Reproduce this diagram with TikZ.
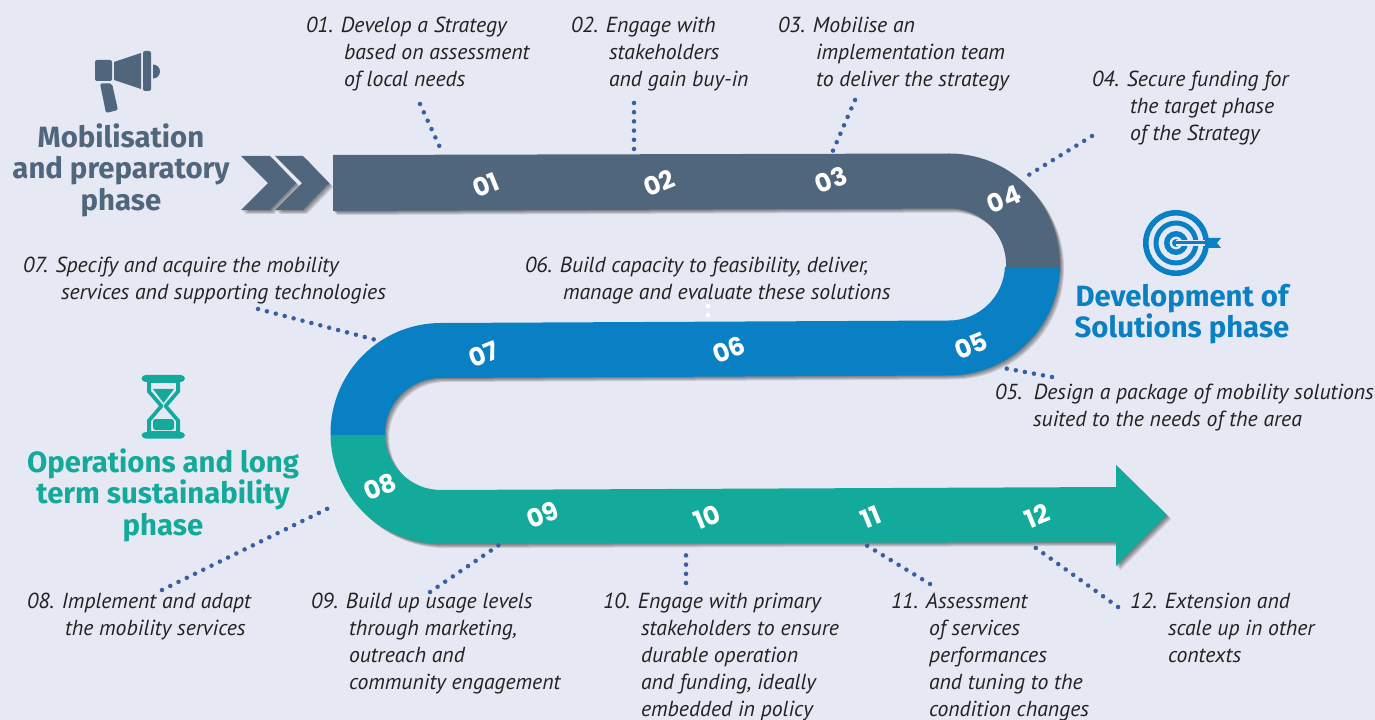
\documentclass[tikz,border=0pt]{standalone}
\usepackage{fontspec}
\setmainfont{PT Sans}
\newfontfamily\headfont{Fira Sans}
\newfontfamily\numfont{Poppins}
\definecolor{bgc}{HTML}{E6E9F3}
\definecolor{slatec}{HTML}{4F667C}
\definecolor{bluec}{HTML}{0A80C4}
\definecolor{greenc}{HTML}{13AA9B}
\definecolor{dotc}{HTML}{3A5FA0}
\definecolor{txtc}{HTML}{222222}
\tikzset{
  px/.style={x=0.75pt,y=-0.75pt},
  lbl/.style={anchor=north west,inner sep=0pt,outer sep=0pt,align=left,text=txtc,
     font=\fontsize{16.3pt}{20.25pt}\selectfont\itshape},
  head/.style={inner sep=0pt,outer sep=0pt,align=center,font=\fontsize{22pt}{23.6pt}\selectfont\headfont\bfseries},
  num/.style={inner sep=0pt,text=white,rotate=22,font=\fontsize{19pt}{19pt}\selectfont\numfont\bfseries},
  dotline/.style={draw=dotc,line width=3.4pt,line cap=round,dash pattern=on 0pt off 6.9pt},
  shad/.style={fill=black,fill opacity=0.13,draw=none},
}
\newcommand{\softshadow}[1]{%
  \foreach \d in {1,2,3,4}{\fill[shad,shift={(\d*0.75pt,-\d*0.75pt)}] #1;}%
}
\def\pathA{(333,155) -- (949,153.5) arc[start angle=-90,end angle=1.3,radius=111] -- (1006,267) arc[start angle=2.5,end angle=-90,radius=56] -- (333,211) -- cycle}
\def\pathB{(1060,267) arc[start angle=1.3,end angle=90,radius=111] -- (441,378) arc[start angle=-90,end angle=-180,radius=56] -- (385,435) -- (330.5,435) -- (330.5,433.5) arc[start angle=180,end angle=270,radius=110.5] -- (949,320.5) arc[start angle=90,end angle=2.5,radius=56] -- cycle}
\def\pathC{(330.5,435) -- (330.5,433.5) arc[start angle=180,end angle=90,radius=110.5] -- (1116,542) -- (1116,566) -- (1167,515) -- (1116,465) -- (1116,487) -- (441,490) arc[start angle=90,end angle=180,radius=56] -- (385,435) -- cycle}
\def\pathD{(241,156) -- (270,156) -- (296,183) -- (270,210) -- (241,210) -- (268,183) -- cycle}
\def\pathE{(275,156) -- (303,156) -- (329,183) -- (303,210) -- (275,210) -- (302,183) -- cycle}
\begin{document}
\begin{tikzpicture}[px]
\fill[bgc] (0,0) rectangle (1375,720);
\useasboundingbox (0,0) rectangle (1375,720);
% shadows
\softshadow{\pathA}\softshadow{\pathB}\softshadow{\pathC}\softshadow{\pathD}\softshadow{\pathE}
% chevrons and band
\fill[slatec] \pathD;
\fill[slatec] \pathE;
\fill[greenc] \pathC;
\fill[bluec] \pathB;
\fill[slatec] \pathA;
% megaphone
\begin{scope}[slatec]
\fill[rounded corners=1.5pt] (95,60) rectangle (112,81);
\fill (114,62) -- (141,53) -- (141,89) -- (114,80) -- cycle;
\fill[rounded corners=1.5pt] (143,51) rectangle (151,91);
\fill (153,64.5) arc[start angle=-90,end angle=90,radius=7] -- cycle;
\fill[rounded corners=1.5pt] (100,83.5) -- (112,83.5) -- (118,110) -- (106,113) -- cycle;
\end{scope}
% target
\begin{scope}[bluec,even odd rule]
\fill (1176,243) circle[radius=33] circle[radius=27.5] circle[radius=22.5] circle[radius=17.5] circle[radius=12] circle[radius=6.5] circle[radius=4];
\fill[bgc] (1176,240) rectangle (1205,246);
\fill (1176,241.5) rectangle (1210,244.5);
\fill (1206,238) -- (1221,238) -- (1217,243) -- (1221,248) -- (1206,248) -- (1210,243) -- cycle;
\end{scope}
% hourglass
\begin{scope}[greenc]
\fill[rounded corners=3pt] (141.5,375) rectangle (185,382);
\fill[rounded corners=3pt] (141.5,432) rectangle (185,438.5);
\fill[even odd rule] (147,382) -- (180,382) -- (180,392) -- (168,406) -- (180,420) -- (180,432) -- (147,432) -- (147,420) -- (159,406) -- (147,392) -- cycle
  (151,383) -- (176,383) -- (176,391) -- (164,405) -- (164,407) -- (176,421) -- (176,431) -- (151,431) -- (151,421) -- (163,407) -- (163,405) -- (151,391) -- cycle;
\fill (153,389) -- (174,389) -- (163.5,403) -- cycle;
\fill[rounded corners=2pt] (153,419) -- (174,419) -- (174,430) -- (153,430) -- cycle;
\end{scope}
% headings
\node[head,text=slatec] (hmob) at (121,170) {Mobilisation\\and preparatory\\phase};
\node[head,text=bluec] (hdev) at (1182,314) {Development of\\Solutions phase};
\node[head,text=greenc] (hops) at (163,495) {Operations and long\\term sustainability\\phase};
% band numbers
\node[num] (n01) at (486,185) {01};
\node[num] (n02) at (659,183) {02};
\node[num] (n03) at (831,180) {03};
\node[num] (n04) at (1004,199) {04};
\node[num] (n05) at (971,346) {05};
\node[num] (n06) at (729,350) {06};
\node[num] (n07) at (484,354) {07};
\node[num] (n08) at (380,487) {08};
\node[num] (n09) at (543,515) {09};
\node[num] (n10) at (707,517) {10};
\node[num] (n11) at (871,517) {11};
\node[num] (n12) at (1037,516) {12};
% labels
\node[lbl] (t01) at (306,17) {01. Develop a Strategy\\\hspace*{28.5pt}based on assessment\\\hspace*{28.5pt}of local needs};
\node[lbl] (t02) at (571,17) {02. Engage with\\\hspace*{28.5pt}stakeholders\\\hspace*{28.5pt}and gain buy-in};
\node[lbl] (t03) at (778,17) {03. Mobilise an\\\hspace*{28.5pt}implementation team\\\hspace*{28.5pt}to deliver the strategy};
\node[lbl] (t04) at (1092,71) {04. Secure funding for\\\hspace*{28.5pt}the target phase\\\hspace*{28.5pt}of the Strategy};
\node[lbl] (t05) at (995,384) {05.\ \ Design a package of mobility solutions\\\hspace*{28.5pt}suited to the needs of the area};
\node[lbl] (t06) at (525,257) {06. Build capacity to feasibility, deliver,\\\hspace*{28.5pt}manage and evaluate these solutions};
\node[lbl] (t07) at (23,257) {07. Specify and acquire the mobility\\\hspace*{28.5pt}services and supporting technologies};
\node[lbl] (t08) at (27,593) {08. Implement and adapt\\\hspace*{28.5pt}the mobility services};
\node[lbl] (t09) at (311,593) {09. Build up usage levels\\\hspace*{28.5pt}through marketing,\\\hspace*{28.5pt}outreach and\\\hspace*{28.5pt}community engagement};
\node[lbl] (t10) at (603,593) {10. Engage with primary\\\hspace*{28.5pt}stakeholders to ensure\\\hspace*{28.5pt}durable operation\\\hspace*{28.5pt}and funding, ideally\\\hspace*{28.5pt}embedded in policy};
\node[lbl] (t11) at (891,593) {11. Assessment\\\hspace*{28.5pt}of services\\\hspace*{28.5pt}performances\\\hspace*{28.5pt}and tuning to the\\\hspace*{28.5pt}condition changes};
\node[lbl] (t12) at (1130,593) {12. Extension and\\\hspace*{28.5pt}scale up in other\\\hspace*{28.5pt}contexts};
% connector ends
\coordinate (a01) at (420,104); \coordinate (b01) at (443,154);
\coordinate (a02) at (634,103); \coordinate (b02) at (634,154);
\coordinate (a03) at (855,100); \coordinate (b03) at (832,153);
\coordinate (a04) at (1092,136); \coordinate (b04) at (1027,176);
\coordinate (a05) at (1052,377); \coordinate (b05) at (998,367);
\coordinate (a06) at (708,306); \coordinate (b06) at (708,316);
\coordinate (a07) at (258,309); \coordinate (b07) at (380,341);
\coordinate (a08) at (162,590); \coordinate (b08) at (335,505);
\coordinate (a09) at (430,592); \coordinate (b09) at (499,545);
\coordinate (a10) at (686,583); \coordinate (b10) at (686,547);
\coordinate (a11) at (930,584); \coordinate (b11) at (866,545);
\coordinate (a12) at (1118,607); \coordinate (b12) at (1029,543);
\foreach \i in {01,02,03,04,05,07,08,09,10,11,12}{\draw[dotline] (a\i) -- (b\i);}
\draw[dotline,draw=white] (a06) -- (b06);
\end{tikzpicture}
\end{document}
